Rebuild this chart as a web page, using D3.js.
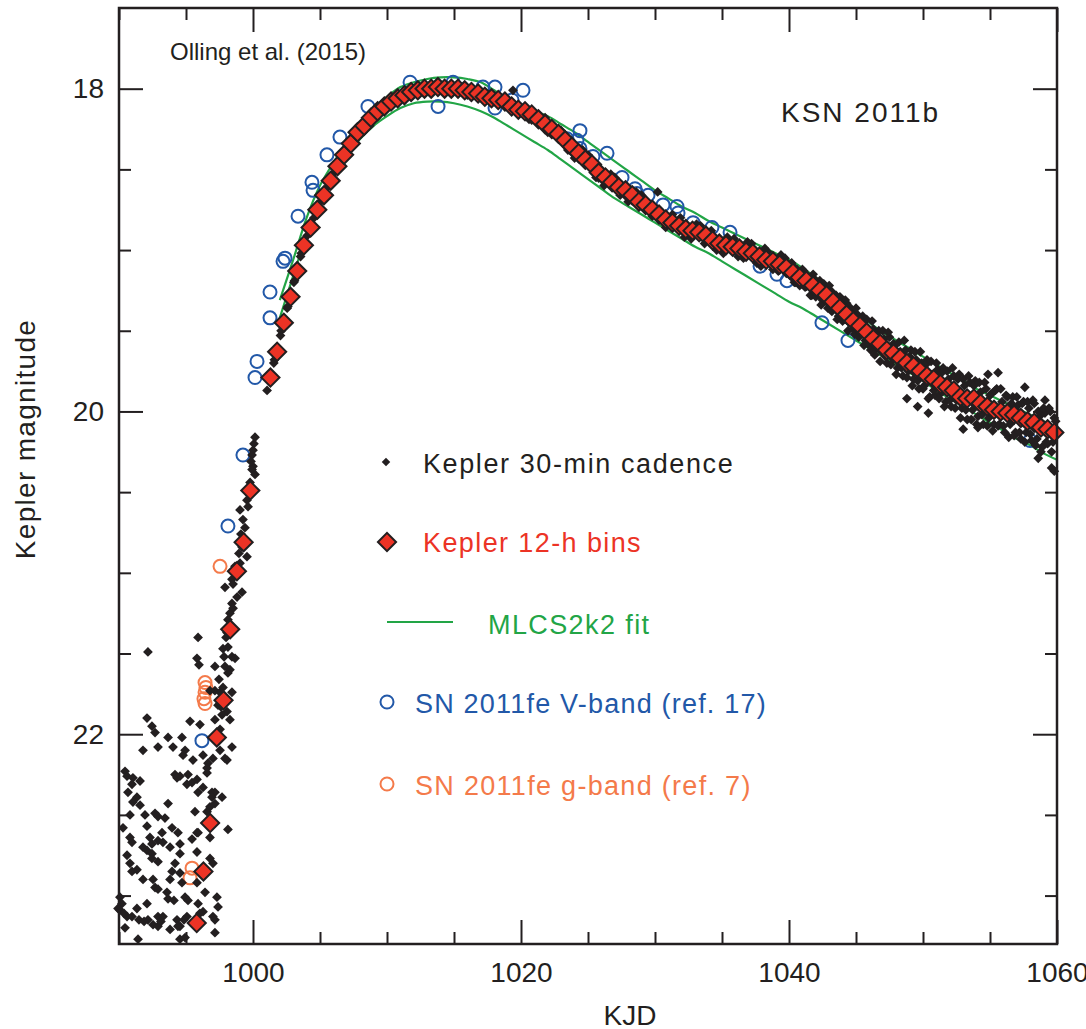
<!DOCTYPE html>
<html>
<head>
<meta charset="utf-8">
<script src="https://cdn.jsdelivr.net/npm/d3@7"></script>
<style>
  body { margin: 0; background: #fff; }
  text { font-family: "Liberation Sans", Arial, Helvetica, sans-serif; fill: #231f20; }
</style>
</head>
<body>
<div id="chart"></div>
<script>
// KSN 2011b light curve (Olling et al. 2015)

// Kepler 12-h bins [KJD, mag]
var bins12h = [
  [995.8,23.17],[996.3,22.85],[996.8,22.55],[997.3,22.02],[997.8,21.79],[998.3,21.35],[998.8,20.99],[999.3,20.81],[999.8,20.49],
  [1001.3,19.79],[1001.8,19.63],[1002.3,19.45],[1002.8,19.29],[1003.3,19.13],[1003.8,18.97],[1004.3,18.86],[1004.8,18.75],
  [1005.3,18.66],[1005.8,18.57],[1006.3,18.48],[1006.8,18.41],[1007.3,18.34],[1007.8,18.27],[1008.3,18.23],[1008.8,18.18],
  [1009.3,18.14],[1009.8,18.11],[1010.3,18.08],[1010.8,18.06],[1011.3,18.04],[1011.8,18.02],[1012.3,18.01],[1012.8,18.00],
  [1013.3,18.00],[1013.8,17.99],[1014.3,18.00],[1014.8,18.00],[1015.3,18.00],[1015.8,18.01],[1016.3,18.02],[1016.8,18.03],
  [1017.3,18.05],[1017.8,18.06],[1018.3,18.07],[1018.8,18.08],[1019.3,18.11],[1019.8,18.13],[1020.3,18.14],[1020.8,18.16],
  [1021.3,18.19],[1021.8,18.22],[1022.3,18.25],[1022.8,18.28],[1023.3,18.32],[1023.8,18.36],[1024.3,18.40],[1024.8,18.44],
  [1025.3,18.47],[1025.8,18.52],[1026.3,18.55],[1026.8,18.58],[1027.3,18.61],[1027.8,18.63],[1028.3,18.66],[1028.8,18.70],
  [1029.3,18.72],[1029.8,18.75],[1030.3,18.78],[1030.8,18.81],[1031.3,18.83],[1031.8,18.85],[1032.3,18.87],[1032.8,18.88],
  [1033.3,18.89],[1033.8,18.91],[1034.3,18.94],[1034.8,18.96],[1035.3,18.97],[1035.8,18.98],[1036.3,18.99],[1036.8,19.01],
  [1037.3,19.02],[1037.8,19.04],[1038.3,19.06],[1038.8,19.07],[1039.3,19.09],[1039.8,19.11],[1040.3,19.14],[1040.8,19.17],
  [1041.3,19.19],[1041.8,19.22],[1042.3,19.25],[1042.8,19.28],[1043.3,19.32],[1043.8,19.36],[1044.3,19.40],[1044.8,19.44],
  [1045.3,19.47],[1045.8,19.51],[1046.3,19.55],[1046.8,19.58],[1047.3,19.62],[1047.8,19.64],[1048.3,19.67],[1048.8,19.70],
  [1049.3,19.72],[1049.8,19.75],[1050.3,19.78],[1050.8,19.80],[1051.3,19.83],[1051.8,19.85],[1052.3,19.87],[1052.8,19.91],
  [1053.3,19.92],[1053.8,19.92],[1054.3,19.95],[1054.8,19.97],[1055.3,19.99],[1055.8,20.00],[1056.3,20.01],[1056.8,20.02],
  [1057.3,20.04],[1057.8,20.06],[1058.3,20.07],[1058.8,20.10],[1059.3,20.11],[1059.8,20.13]
];

// Kepler 30-min cadence, before and during the rise [KJD, mag]
var cadenceEarly = [
  [992.16,21.49],[995.90,21.40],[995.82,21.53],[995.97,21.57],[997.16,21.58],[995.30,21.92],[996.04,21.94],[992.09,21.90],
  [992.46,21.95],[992.69,21.99],[993.66,22.02],[994.03,22.08],[992.91,22.08],[991.79,22.10],[994.70,22.02],[994.93,22.10],
  [994.78,22.13],[995.52,22.16],[996.27,22.13],[996.64,22.18],[996.57,22.21],[997.01,22.15],[997.54,22.10],[998.06,22.16],
  [990.45,22.23],[990.60,22.26],[991.04,22.27],[991.57,22.29],[990.97,22.31],[994.18,22.25],[994.55,22.26],[995.15,22.25],
  [994.33,22.27],[995.07,22.31],[995.45,22.30],[995.82,22.28],[996.57,22.24],[996.27,22.33],[995.90,22.36],[996.94,22.36],
  [997.16,22.36],[996.94,22.39],[997.69,22.39],[997.16,22.43],[996.79,22.45],[996.57,22.48],[995.67,22.48],[990.67,22.36],
  [991.34,22.39],[991.04,22.42],[991.57,22.44],[993.66,22.43],[990.82,22.50],[991.94,22.50],[992.69,22.49],[992.91,22.51],
  [993.43,22.52],[993.96,22.58],[992.09,22.57],[990.30,22.58],[993.21,22.61],[995.90,22.61],[995.45,22.65],[998.13,22.59],
  [990.97,22.67],[991.79,22.70],[992.09,22.72],[992.46,22.74],[993.28,22.67],[992.46,22.77],[992.91,22.79],[994.55,22.74],
  [995.82,22.73],[996.79,22.77],[997.01,22.80],[994.18,22.80],[993.96,22.85],[990.60,22.75],[990.82,22.80],[990.97,22.85],
  [991.34,22.84],[991.79,22.90],[992.54,22.90],[994.55,22.86],[994.70,22.92],[993.81,22.90],[992.69,22.95],[992.91,22.96],
  [993.58,22.98],[994.93,23.01],[995.15,23.03],[996.42,22.98],[997.31,23.01],[995.82,22.92],[990.07,23.01],[990.22,23.05],
  [990.07,23.09],[990.60,23.13],[990.97,23.13],[991.34,23.08],[992.09,23.05],[992.16,23.15],[992.54,23.18],[992.91,23.13],
  [993.28,23.13],[994.33,23.15],[995.07,23.13],[994.55,23.19],[996.04,23.11],[995.90,23.05],[997.39,23.07],[997.01,23.13],
  [993.81,23.21],[997.16,23.23],[990.45,23.20],[991.42,23.27],[994.55,23.27],[994.93,23.26],[990.82,22.64],[992.31,22.64],
  [992.46,22.68],[992.91,22.66],[994.40,22.61],[994.55,22.68],[993.81,22.70],[995.82,22.61],[996.79,22.64],[989.93,23.08],
  [990.37,23.11],[991.49,23.15],[991.87,23.16],[992.91,23.19],[994.40,23.19],[993.66,23.02],[994.10,23.03],[993.13,23.16],
  [994.85,23.15],[996.27,23.10],[997.16,23.15],
  [1000.15,20.16],[1000.07,20.20],[1000.00,20.24],[1000.00,20.34],[999.93,20.36],[1000.15,20.39],[999.78,20.44],[999.55,20.55],
  [999.63,20.59],[999.03,20.61],[999.25,20.67],[999.40,20.72],[999.18,20.84],[999.55,20.90],[999.03,20.94],[998.66,20.96],
  [998.43,21.04],[997.91,21.09],[998.51,21.07],[999.18,21.12],[998.81,21.15],[998.43,21.19],[998.51,21.22],[998.28,21.25],
  [998.13,21.29],[998.06,21.37],[997.76,21.47],[998.13,21.46],[998.43,21.52],[998.66,21.53],[997.91,21.58],[998.28,21.60],
  [998.13,21.62],[997.76,21.71],[997.16,21.73],[996.79,21.73],[997.54,21.74],[998.43,21.74],[998.06,21.86],[998.28,21.91],
  [997.16,21.91],[997.54,21.97],[997.91,22.15],[998.43,22.08],[997.69,21.88],[997.39,21.82],[997.46,21.66],[999.93,20.27],
  [999.85,20.31],[999.70,20.48],[999.10,20.76],[998.95,20.88],[998.73,21.01],[997.99,21.40],[997.84,21.52],[997.61,21.83]
];

// Kepler 30-min cadence, after first light [KJD, mag]
var cadenceLate = [
  [1001.05,19.87],[1001.55,19.70],[1001.60,19.68],[1002.05,19.53],[1002.10,19.50],[1002.55,19.36],[1002.60,19.35],
  [1003.05,19.20],[1003.10,19.19],[1003.55,19.04],[1003.60,19.02],[1004.05,18.91],[1004.55,18.80],[1005.05,18.70],
  [1005.55,18.61],[1006.05,18.52],[1006.55,18.44],[1007.05,18.37],[1007.55,18.30],[1008.05,18.25],[1008.55,18.20],
  [1009.05,18.16],[1009.55,18.12],[1010.05,18.09],[1010.55,18.07],[1011.05,18.05],[1011.55,18.03],[1012.05,18.01],
  [1012.55,18.00],[1013.05,17.99],[1013.55,17.99],[1014.05,18.00],[1014.55,17.99],[1015.05,18.00],[1015.55,18.01],
  [1016.05,18.02],[1016.55,18.03],[1017.05,18.04],[1017.55,18.05],[1018.05,18.07],[1018.55,18.08],[1019.05,18.10],
  [1019.40,18.01],[1019.55,18.12],[1020.05,18.14],[1020.55,18.15],[1021.05,18.17],[1021.55,18.21],[1022.05,18.24],
  [1022.55,18.27],[1023.05,18.30],[1023.55,18.34],[1024.05,18.38],[1024.55,18.42],[1025.05,18.46],[1025.55,18.50],
  [1026.05,18.54],[1026.55,18.57],[1027.05,18.60],[1027.55,18.62],[1028.05,18.65],[1028.55,18.68],[1029.05,18.71],
  [1029.55,18.74],[1030.05,18.77],[1030.20,18.64],[1030.55,18.80],[1031.05,18.82],[1031.55,18.84],[1032.05,18.86],
  [1032.55,18.88],[1033.05,18.89],[1033.55,18.90],[1034.05,18.92],[1034.55,18.95],[1035.05,18.97],[1035.55,18.98],
  [1036.05,18.99],[1036.55,19.00],[1037.05,19.02],[1037.55,19.03],[1038.05,19.05],[1038.55,19.07],[1039.05,19.08],
  [1039.55,19.10],[1040.05,19.12],
  [1030.8,18.86],[1031.3,18.78],[1032.2,18.92],[1033.1,18.84],[1033.7,18.96],[1034.2,18.88],[1035.1,19.02],[1035.9,18.93],
  [1036.6,19.05],[1037.2,18.96],[1037.9,19.10],[1038.4,19.01],[1039.2,19.13],[1039.7,19.05],[1026.2,18.60],[1027.0,18.55],
  [1028.0,18.70],[1029.0,18.66],[1024.0,18.43],[1025.0,18.41],[1022.0,18.27],[1023.0,18.26],[1016.0,18.04],
  [1031.9,18.80],[1032.7,18.93],[1033.4,18.85],[1034.6,19.00],[1035.4,18.92],[1036.2,19.04],[1036.9,18.95],[1037.6,19.08],
  [1038.2,18.99],[1038.8,19.12],[1039.4,19.03],[1029.8,18.79],[1028.6,18.64],[1027.4,18.66],[1026.7,18.53],[1025.6,18.55],
  [1024.6,18.38],[1023.5,18.38],[1021.8,18.18],[1020.6,18.19],
  [1040.1,19.16],[1040.3,19.10],[1040.5,19.20],[1040.7,19.14],[1040.9,19.21],[1041.1,19.13],[1041.3,19.21],[1041.5,19.17],
  [1041.7,19.28],[1041.9,19.18],[1042.1,19.27],[1042.3,19.19],[1042.5,19.31],[1042.7,19.26],[1042.9,19.36],[1043.1,19.25],
  [1043.3,19.35],[1043.5,19.28],[1043.7,19.41],[1043.9,19.33],[1044.1,19.43],[1044.3,19.33],[1044.5,19.45],[1044.7,19.38],
  [1044.9,19.52],[1045.1,19.40],[1045.3,19.51],[1045.5,19.41],[1045.7,19.56],[1045.9,19.49],[1046.1,19.62],[1046.3,19.49],
  [1046.5,19.61],[1046.7,19.50],[1046.9,19.63],[1047.1,19.55],[1047.3,19.70],[1047.5,19.54],[1047.7,19.67],[1047.9,19.59],
  [1048.1,19.73],[1048.3,19.63],[1048.5,19.78],[1048.7,19.62],[1048.9,19.75],[1049.1,19.62],[1049.3,19.80],[1049.5,19.68],
  [1049.7,19.86],[1049.9,19.70],[1050.1,19.84],[1050.3,19.68],[1050.5,19.91],[1050.7,19.77],[1050.9,19.90],[1051.1,19.74],
  [1051.3,19.89],[1051.5,19.73],[1051.7,19.94],[1051.9,19.80],[1052.1,19.97],[1052.3,19.78],[1052.5,19.93],[1052.7,19.77],
  [1052.9,19.98],[1053.1,19.84],[1053.3,20.05],[1053.5,19.82],[1053.7,19.99],[1053.9,19.81],[1054.1,20.03],[1054.3,19.88],
  [1054.5,20.08],[1054.7,19.86],[1054.9,20.04],[1055.1,19.89],[1055.3,20.08],[1055.5,19.86],[1055.7,20.08],[1055.9,19.94],
  [1056.1,20.13],[1056.3,19.91],[1056.5,20.08],[1056.7,19.91],[1056.9,20.13],[1057.1,19.96],[1057.3,20.17],[1057.5,19.94],
  [1057.7,20.13],[1057.9,19.98],[1058.1,20.18],[1058.3,19.95],[1058.5,20.17],[1058.7,20.03],[1058.9,20.22],[1059.1,20.01],
  [1059.3,20.20],[1059.5,20.00],[1059.7,20.19],[1059.9,20.06],
  [1040.0,19.14],[1040.2,19.08],[1040.4,19.20],[1040.6,19.12],[1040.8,19.22],[1041.0,19.12],[1041.2,19.23],[1041.4,19.16],
  [1041.6,19.28],[1041.8,19.15],[1042.0,19.29],[1042.2,19.20],[1042.4,19.34],[1042.6,19.21],[1042.8,19.32],[1043.0,19.22],
  [1043.2,19.38],[1043.4,19.28],[1043.6,19.43],[1043.8,19.29],[1044.0,19.44],[1044.2,19.31],[1044.4,19.50],[1044.6,19.36],
  [1044.8,19.49],[1045.0,19.36],[1045.2,19.54],[1045.4,19.43],[1045.6,19.59],[1045.8,19.43],[1046.0,19.59],[1046.2,19.44],
  [1046.4,19.65],[1046.6,19.53],[1046.8,19.69],[1047.0,19.50],[1047.2,19.66],[1047.4,19.51],[1047.6,19.71],[1047.8,19.58],
  [1048.0,19.77],[1048.2,19.57],[1048.4,19.73],[1048.6,19.56],[1048.8,19.79],[1049.0,19.66],[1049.2,19.84],[1049.4,19.63],
  [1049.6,19.81],[1049.8,19.63],[1050.0,19.86],[1050.2,19.71],[1050.4,19.92],[1050.6,19.69],[1050.8,19.87],[1051.0,19.70],
  [1051.2,19.92],[1051.4,19.76],[1051.6,19.97],[1051.8,19.75],[1052.0,19.93],[1052.2,19.73],[1052.4,19.98],[1052.6,19.80],
  [1052.8,20.04],[1053.0,19.80],[1053.2,19.99],[1053.4,19.78],[1053.6,20.05],[1053.8,19.84],[1054.0,20.08],[1054.2,19.82],
  [1054.4,20.02],[1054.6,19.82],[1054.8,20.09],[1055.0,19.90],[1055.2,20.12],[1055.4,19.87],[1055.6,20.09],[1055.8,19.86],
  [1056.0,20.09],[1056.2,19.90],[1056.4,20.16],[1056.6,19.95],[1056.8,20.15],[1057.0,19.91],[1057.2,20.13],[1057.4,19.95],
  [1057.6,20.19],[1057.8,19.94],[1058.0,20.14],[1058.2,19.93],[1058.4,20.21],[1058.6,20.00],[1058.8,20.25],[1059.0,19.98],
  [1059.2,20.19],[1059.4,19.98],[1059.6,20.25],[1059.8,20.04],
  [1055.6,19.76],[1054.85,19.77],[1057.6,19.85],[1059.1,19.93],[1048.8,19.92],[1049.6,19.97],[1050.4,20.01],[1053.0,20.11],
  [1054.1,20.10],[1058.6,20.29],[1059.6,20.35],[1059.8,20.37]
];

// SN 2011fe V-band (ref. 17) [KJD, mag]
var snV = [
  [996.19,22.04],[998.13,20.71],[999.25,20.27],[1000.15,19.79],[1000.30,19.69],[1001.27,19.42],[1001.27,19.26],
  [1002.24,19.07],[1002.39,19.05],[1003.36,18.79],[1004.40,18.58],[1004.48,18.63],[1005.52,18.41],[1006.49,18.30],
  [1008.58,18.11],[1011.72,17.96],[1013.81,18.11],[1014.93,17.96],[1017.16,17.99],[1018.06,17.99],[1018.06,18.12],
  [1019.33,18.07],[1020.15,18.01],[1023.43,18.31],[1024.40,18.26],[1024.18,18.32],[1024.40,18.37],[1025.37,18.42],
  [1026.42,18.40],[1027.54,18.55],[1028.51,18.62],[1028.66,18.65],[1029.48,18.66],[1030.60,18.72],[1031.64,18.73],
  [1031.72,18.77],[1032.84,18.83],[1034.25,18.86],[1035.60,18.89],[1037.84,19.10],[1039.10,19.15],[1039.85,19.19],
  [1042.46,19.45],[1044.40,19.56],[1057.99,20.18]
];

// SN 2011fe g-band (ref. 7) [KJD, mag]
var snG = [
  [997.54,20.96],[996.42,21.68],[996.49,21.71],[996.42,21.74],[996.34,21.78],[996.42,21.81],[995.45,22.83],[995.30,22.89]
];

// MLCS2k2 fit, bright and faint edges [KJD, mag]
var fitDays = [1002,1003,1004,1005,1006,1007,1008,1009,1010,1011,1012,1013,1014,1015,1016,1017,1018,1019,1020,
  1021,1022,1023,1024,1025,1026,1027,1028,1029,1030,1031,1032,1033,1034,1035,1036,1037,1038,1039,1040,
  1041,1042,1043,1044,1045,1046,1047,1048,1049,1050,1051,1052,1053,1054,1055,1056,1057,1058,1059,1060];
var fitBright = [19.31,19.06,18.80,18.60,18.46,18.34,18.22,18.12,18.05,17.99,17.96,17.94,17.93,17.93,17.94,17.96,18.01,18.06,18.10,
  18.14,18.17,18.22,18.27,18.33,18.39,18.45,18.51,18.57,18.63,18.68,18.73,18.77,18.82,18.86,18.90,18.94,18.98,19.02,19.06,
  19.11,19.17,19.24,19.31,19.38,19.45,19.51,19.56,19.61,19.66,19.71,19.76,19.81,19.86,19.90,19.94,19.98,20.02,20.06,20.10];
var fitFaint = [19.42,19.16,18.91,18.71,18.55,18.42,18.31,18.23,18.17,18.12,18.09,18.08,18.08,18.09,18.11,18.14,18.18,18.23,18.28,
  18.33,18.38,18.44,18.50,18.56,18.62,18.68,18.73,18.78,18.83,18.88,18.93,18.98,19.02,19.07,19.12,19.17,19.22,19.27,19.32,
  19.36,19.41,19.46,19.51,19.56,19.61,19.66,19.71,19.76,19.81,19.87,19.92,19.97,20.02,20.07,20.12,20.17,20.21,20.26,20.30];

var xMajor = [1000, 1020, 1040, 1060];
var xMinor = [990, 995, 1005, 1010, 1015, 1025, 1030, 1035, 1045, 1050, 1055];
var yMajor = [18, 20, 22];
var yMinor = [18.5, 19, 19.5, 20.5, 21, 21.5, 22.5, 23];

var ink = "#231f20",
    cRed = "#ec3325",
    cGreen = "#22a546",
    cBlue = "#2258a8",
    cOrange = "#f47a4a";

var width = 1086, height = 1029;
var plotL = 119, plotR = 1057, plotT = 8, plotB = 944;

var svg = d3.select("#chart").append("svg")
    .attr("width", width)
    .attr("height", height);

var x = d3.scaleLinear().domain([990, 1060]).range([plotL, plotR]);
var y = d3.scaleLinear().domain([17.5, 23.3]).range([plotT, plotB]);

// axes: long ticks at majors, short at minors, all pointing inward
function axisPair(axisFn, scale, major, minor, pos, labels) {
    var g = svg.append("g").attr("transform", pos);
    g.call(axisFn(scale)
        .tickValues(major).tickSize(-24).tickPadding(labels ? 15 : 0)
        .tickFormat(labels ? d3.format("d") : ""));
    var g2 = svg.append("g").attr("transform", pos);
    g2.call(axisFn(scale)
        .tickValues(minor).tickSize(-12).tickFormat(""));
    [g, g2].forEach(function(s) {
        s.select(".domain").remove();
        s.selectAll(".tick line").attr("stroke", ink).attr("stroke-width", 2);
        s.selectAll(".tick text").attr("fill", ink).style("font-size", "28px")
            .style("font-family", "'Liberation Sans', Arial, Helvetica, sans-serif");
    });
    return g;
}

axisPair(d3.axisLeft, y, yMajor, yMinor, "translate(" + plotL + ",0)", true);
axisPair(d3.axisRight, y, yMajor, yMinor, "translate(" + plotR + ",0)", false);
var gx = axisPair(d3.axisBottom, x, xMajor, xMinor, "translate(0," + plotB + ")", true);
gx.selectAll(".tick text").attr("dy", null).attr("y", 38);
axisPair(d3.axisTop, x, xMajor, xMinor, "translate(0," + plotT + ")", false);

// fit curves
var fitLine = d3.line()
    .x(function(d) { return x(d[0]); })
    .y(function(d) { return y(d[1]); })
    .curve(d3.curveCatmullRom);

[fitBright, fitFaint].forEach(function(series) {
    svg.append("path")
        .datum(fitDays.map(function(t, i) { return [t, series[i]]; }))
        .attr("d", fitLine)
        .attr("fill", "none")
        .attr("stroke", cGreen)
        .attr("stroke-width", 2.2);
});

// SN 2011fe circles
function circles(data, color) {
    svg.append("g").selectAll("circle")
        .data(data).enter()
        .append("circle")
        .attr("cx", function(d) { return x(d[0]); })
        .attr("cy", function(d) { return y(d[1]); })
        .attr("r", 6.5)
        .attr("fill", "none")
        .attr("stroke", color)
        .attr("stroke-width", 2);
}
circles(snV, cBlue);
circles(snG, cOrange);

// Kepler points
var smallDiamond = d3.symbol().type(d3.symbolSquare).size(48);
var bigDiamond = d3.symbol().type(d3.symbolSquare).size(165);

svg.append("g").selectAll("path")
    .data(cadenceEarly.concat(cadenceLate)).enter()
    .append("path")
    .attr("d", smallDiamond)
    .attr("transform", function(d) { return "translate(" + x(d[0]) + "," + y(d[1]) + ") rotate(45)"; })
    .attr("fill", ink);

svg.append("g").selectAll("path")
    .data(bins12h).enter()
    .append("path")
    .attr("d", bigDiamond)
    .attr("transform", function(d) { return "translate(" + x(d[0]) + "," + y(d[1]) + ") rotate(45)"; })
    .attr("fill", cRed)
    .attr("stroke", ink)
    .attr("stroke-width", 2);

// frame
svg.append("rect")
    .attr("x", plotL).attr("y", plotT)
    .attr("width", plotR - plotL).attr("height", plotB - plotT)
    .attr("fill", "none")
    .attr("stroke", ink)
    .attr("stroke-width", 2.5);

// labels
svg.append("text")
    .attr("x", 630).attr("y", 1025)
    .attr("text-anchor", "middle")
    .style("font-size", "28px")
    .text("KJD");

svg.append("text")
    .attr("transform", "translate(35,439) rotate(-90)")
    .attr("text-anchor", "middle")
    .style("font-size", "28px")
    .style("letter-spacing", "1.3px")
    .text("Kepler magnitude");

svg.append("text")
    .attr("x", 170).attr("y", 60)
    .style("font-size", "24px")
    .text("Olling et al. (2015)");

svg.append("text")
    .attr("x", 781).attr("y", 122)
    .style("font-size", "28px")
    .style("letter-spacing", "2px")
    .text("KSN 2011b");

// legend
var lg = svg.append("g");
lg.append("path").attr("d", d3.symbol().type(d3.symbolSquare).size(36))
    .attr("transform", "translate(386,462) rotate(45)").attr("fill", ink);
lg.append("text").attr("x", 423).attr("y", 473).style("font-size", "27px")
    .style("letter-spacing", "1.6px").text("Kepler 30-min cadence");

lg.append("path").attr("d", bigDiamond)
    .attr("transform", "translate(387,542) rotate(45)")
    .attr("fill", cRed).attr("stroke", ink).attr("stroke-width", 2);
lg.append("text").attr("x", 423).attr("y", 552).style("font-size", "27px")
    .style("letter-spacing", "1.4px").style("fill", cRed).text("Kepler 12-h bins");

lg.append("line").attr("x1", 387).attr("x2", 453).attr("y1", 622).attr("y2", 622)
    .attr("stroke", cGreen).attr("stroke-width", 2.2);
lg.append("text").attr("x", 488).attr("y", 634).style("font-size", "27px")
    .style("letter-spacing", "1.4px").style("fill", cGreen).text("MLCS2k2 fit");

lg.append("circle").attr("cx", 387).attr("cy", 702).attr("r", 6.5)
    .attr("fill", "none").attr("stroke", cBlue).attr("stroke-width", 2);
lg.append("text").attr("x", 415).attr("y", 713).style("font-size", "27px")
    .style("letter-spacing", "1.2px").style("fill", cBlue).text("SN 2011fe V-band (ref. 17)");

lg.append("circle").attr("cx", 387).attr("cy", 784).attr("r", 6.5)
    .attr("fill", "none").attr("stroke", cOrange).attr("stroke-width", 2);
lg.append("text").attr("x", 415).attr("y", 795).style("font-size", "27px")
    .style("letter-spacing", "1.3px").style("fill", cOrange).text("SN 2011fe g-band (ref. 7)");
</script>
</body>
</html>
